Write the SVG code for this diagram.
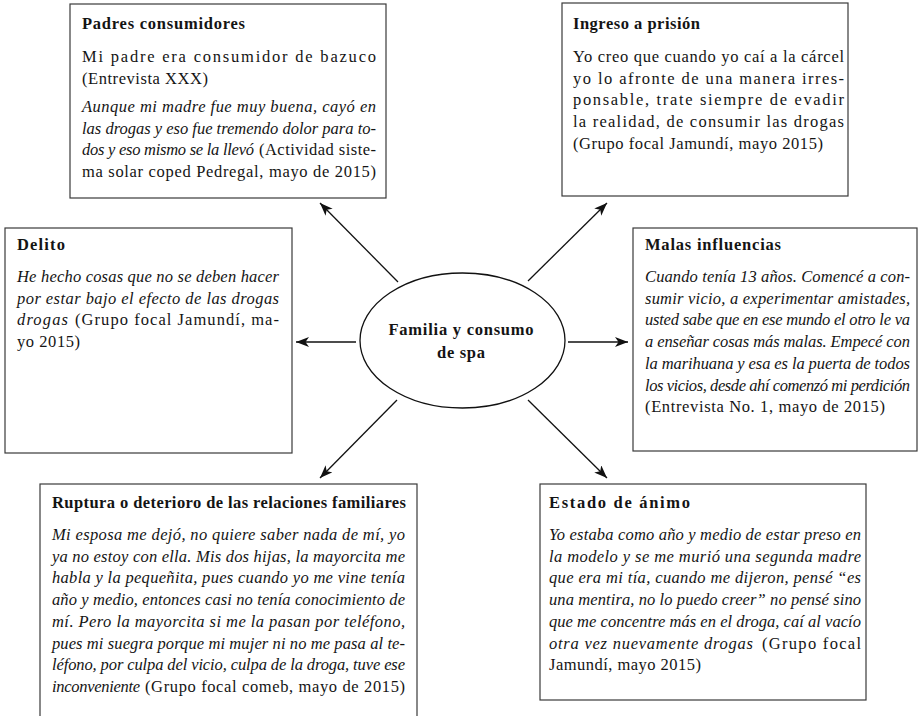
<svg xmlns="http://www.w3.org/2000/svg" width="924" height="716" viewBox="0 0 924 716">
<style>
.bg{fill:#ffffff}
.box{fill:#ffffff;stroke:#3a3a3a;stroke-width:1.2}
.t{font-family:"Liberation Serif","Times New Roman",serif;font-size:16.5px;fill:#141414}
.b{font-weight:bold}
.i{font-style:italic}
.c{text-anchor:middle}
.con{stroke:#111;stroke-width:1.3;fill:none;marker-end:url(#ah)}
</style>
<defs>
<marker id="ah" markerUnits="userSpaceOnUse" markerWidth="14" markerHeight="11" refX="13" refY="5" orient="auto">
<path d="M0,0 L13,5 L0,10 L3.5,5 Z" fill="#111"/>
</marker>
</defs>
<rect class="bg" x="0" y="0" width="924" height="716"/>

<g id="padres">
<rect class="box" x="70" y="4" width="316" height="194"/>
<text class="t b" x="82" y="29" textLength="163">Padres consumidores</text>
<text class="t" x="82" y="62" textLength="294">Mi padre era consumidor de bazuco</text>
<text class="t" x="82" y="83.7" textLength="126">(Entrevista XXX)</text>
<text class="t i" x="82" y="112" textLength="294">Aunque mi madre fue muy buena, cayó en</text>
<text class="t i" x="82" y="133.7" textLength="294">las drogas y eso fue tremendo dolor para to-</text>
<text class="t i" x="82" y="155.4" textLength="172">dos y eso mismo se la llevó</text>
<text class="t" x="259" y="155.4" textLength="117">(Actividad siste-</text>
<text class="t" x="82" y="177.1" textLength="294">ma solar coped Pedregal, mayo de 2015)</text>
</g>

<g id="ingreso">
<rect class="box" x="562" y="3" width="286" height="193"/>
<text class="t b" x="573" y="29" textLength="127">Ingreso a prisión</text>
<text class="t" x="573" y="62" textLength="271">Yo creo que cuando yo caí a la cárcel</text>
<text class="t" x="573" y="83.7" textLength="271">yo lo afronte de una manera irres-</text>
<text class="t" x="573" y="105.4" textLength="271">ponsable, trate siempre de evadir</text>
<text class="t" x="573" y="127.1" textLength="271">la realidad, de consumir las drogas</text>
<text class="t" x="573" y="148.8" textLength="250">(Grupo focal Jamundí, mayo 2015)</text>
</g>

<g id="delito">
<rect class="box" x="5" y="228" width="287" height="225"/>
<text class="t b" x="17" y="250" textLength="48">Delito</text>
<text class="t i" x="17" y="282" textLength="262">He hecho cosas que no se deben hacer</text>
<text class="t i" x="17" y="303.7" textLength="262">por estar bajo el efecto de las drogas</text>
<text class="t i" x="17" y="325.4" textLength="51">drogas</text>
<text class="t" x="75" y="325.4" textLength="204">(Grupo focal Jamundí, ma-</text>
<text class="t" x="17" y="347.1" textLength="63">yo 2015)</text>
</g>

<g id="malas">
<rect class="box" x="633" y="228" width="284" height="223"/>
<text class="t b" x="645" y="250" textLength="136">Malas influencias</text>
<text class="t i" x="645" y="282" textLength="265">Cuando tenía 13 años. Comencé a con-</text>
<text class="t i" x="645" y="303.7" textLength="265">sumir vicio, a experimentar amistades,</text>
<text class="t i" x="645" y="325.4" textLength="265">usted sabe que en ese mundo el otro le va</text>
<text class="t i" x="645" y="347.1" textLength="265">a enseñar cosas más malas. Empecé con</text>
<text class="t i" x="645" y="368.8" textLength="265">la marihuana y esa es la puerta de todos</text>
<text class="t i" x="645" y="390.5" textLength="265">los vicios, desde ahí comenzó mi perdición</text>
<text class="t" x="645" y="412.2" textLength="240">(Entrevista No. 1, mayo de 2015)</text>
</g>

<g id="ruptura">
<rect class="box" x="40" y="484" width="377" height="250"/>
<text class="t b" x="52" y="508" textLength="354">Ruptura o deterioro de las relaciones familiares</text>
<text class="t i" x="52" y="540" textLength="353">Mi esposa me dejó, no quiere saber nada de mí, yo</text>
<text class="t i" x="52" y="561.7" textLength="353">ya no estoy con ella. Mis dos hijas, la mayorcita me</text>
<text class="t i" x="52" y="583.4" textLength="353">habla y la pequeñita, pues cuando yo me vine tenía</text>
<text class="t i" x="52" y="605.1" textLength="353">año y medio, entonces casi no tenía conocimiento de</text>
<text class="t i" x="52" y="626.8" textLength="353">mí. Pero la mayorcita si me la pasan por teléfono,</text>
<text class="t i" x="52" y="648.5" textLength="353">pues mi suegra porque mi mujer ni no me pasa al te-</text>
<text class="t i" x="52" y="670.2" textLength="353">léfono, por culpa del vicio, culpa de la droga, tuve ese</text>
<text class="t i" x="52" y="691.9" textLength="88">inconveniente</text>
<text class="t" x="145" y="691.9" textLength="260">(Grupo focal comeb, mayo de 2015)</text>
</g>

<g id="estado">
<rect class="box" x="540" y="484" width="326" height="216"/>
<text class="t b" x="549" y="508" textLength="141">Estado de ánimo</text>
<text class="t i" x="549" y="540" textLength="312">Yo estaba como año y medio de estar preso en</text>
<text class="t i" x="549" y="561.7" textLength="312">la modelo y se me murió una segunda madre</text>
<text class="t i" x="549" y="583.4" textLength="312">que era mi tía, cuando me dijeron, pensé “es</text>
<text class="t i" x="549" y="605.1" textLength="312">una mentira, no lo puedo creer” no pensé sino</text>
<text class="t i" x="549" y="626.8" textLength="312">que me concentre más en el droga, caí al vacío</text>
<text class="t i" x="549" y="648.5" textLength="204">otra vez nuevamente drogas</text>
<text class="t" x="762" y="648.5" textLength="99">(Grupo focal</text>
<text class="t" x="549" y="670.2" textLength="152">Jamundí, mayo 2015)</text>
</g>

<g id="centro">
<ellipse cx="462.5" cy="340.5" rx="102.5" ry="67.5" fill="#ffffff" stroke="#111" stroke-width="1.3"/>
<text class="t b c" x="461" y="335" textLength="145">Familia y consumo</text>
<text class="t b c" x="461" y="358" textLength="48">de spa</text>
</g>

<g id="connectors">
<line class="con" x1="398" y1="282" x2="320" y2="203"/>
<line class="con" x1="528" y1="281" x2="607" y2="203"/>
<line class="con" x1="356" y1="342" x2="296" y2="342"/>
<line class="con" x1="568" y1="342" x2="628" y2="342"/>
<line class="con" x1="397" y1="400" x2="320" y2="478"/>
<line class="con" x1="528" y1="400" x2="607" y2="478"/>
</g>
</svg>
